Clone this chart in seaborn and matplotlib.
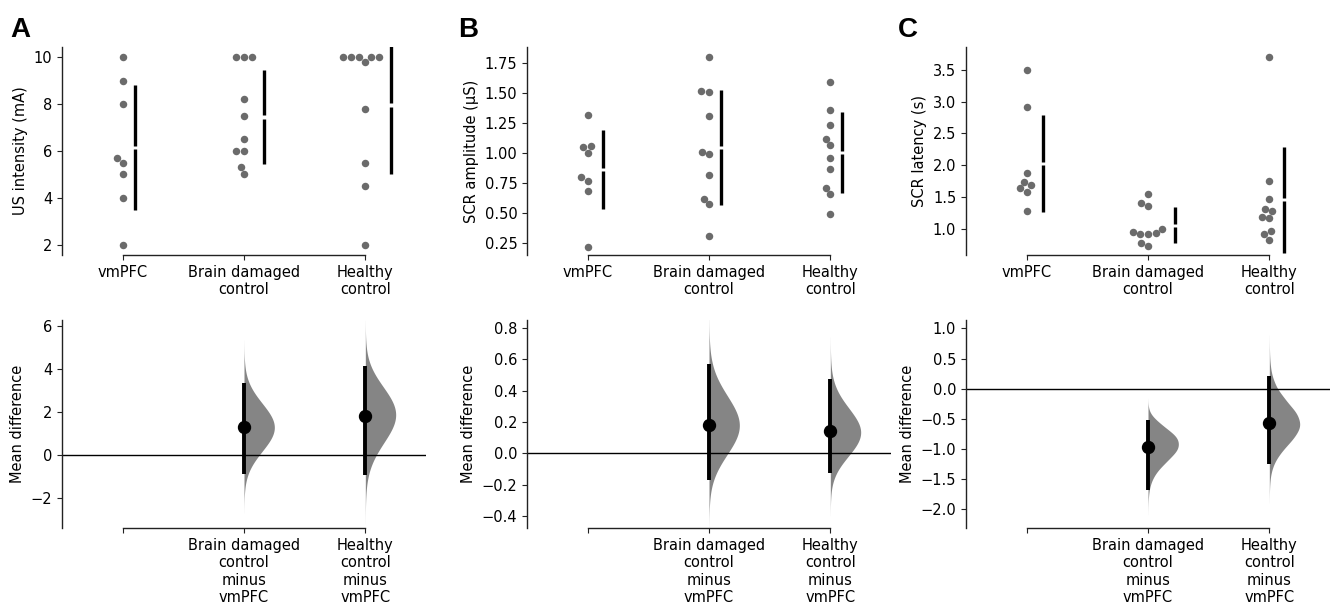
import numpy as np
import pandas as pd
import matplotlib
matplotlib.use("Agg")
import matplotlib.pyplot as plt
import seaborn as sns

# ---------------- data ----------------
groups = ["vmPFC", "Brain damaged\ncontrol", "Healthy\ncontrol"]
diff_labels = ["", "Brain damaged\ncontrol\nminus\nvmPFC", "Healthy\ncontrol\nminus\nvmPFC"]

us_vmpfc = [10, 9, 8, 5.7, 5.5, 5, 4, 2]
us_bdc = [10, 10, 10, 8.2, 7.5, 6.5, 6, 6, 5.3, 5]
us_hc = [10, 10, 10, 10, 10, 9.8, 7.8, 5.5, 4.5, 2]

amp_vmpfc = [1.32, 1.06, 1.05, 1.00, 0.80, 0.77, 0.68, 0.22]
amp_bdc = [1.80, 1.52, 1.51, 1.31, 1.01, 0.99, 0.82, 0.62, 0.575, 0.31]
amp_hc = [1.59, 1.36, 1.23, 1.12, 1.07, 0.96, 0.87, 0.71, 0.66, 0.49]

lat_vmpfc = [3.50, 2.91, 1.88, 1.74, 1.69, 1.64, 1.59, 1.29]
lat_bdc = [1.56, 1.41, 1.37, 1.01, 0.96, 0.95, 0.93, 0.92, 0.79, 0.745]
lat_hc = [3.70, 1.75, 1.48, 1.32, 1.28, 1.20, 1.17, 0.98, 0.92, 0.83]

# 95% CIs of the mean differences (test minus vmPFC)
ci_us = [(-0.88, 3.35), (-0.91, 4.12)]
ci_amp = [(-0.169, 0.571), (-0.127, 0.476)]
ci_lat = [(-1.683, -0.528), (-1.25, 0.206)]

panel_letters = ["A", "B", "C"]
top_ylabels = ["US intensity (mA)", "SCR amplitude (\u03bcS)", "SCR latency (s)"]
top_ylims = [(1.57, 10.43), (0.15, 1.883), (0.598, 3.853)]
bot_ylims = [(-3.39, 6.28), (-0.476, 0.851), (-2.315, 1.14)]
top_yticks = [[2, 4, 6, 8, 10], [0.25, 0.5, 0.75, 1.0, 1.25, 1.5, 1.75],
              [1.0, 1.5, 2.0, 2.5, 3.0, 3.5]]
bot_yticks = [[-2, 0, 2, 4, 6], [-0.4, -0.2, 0.0, 0.2, 0.4, 0.6, 0.8],
              [-2.0, -1.5, -1.0, -0.5, 0.0, 0.5, 1.0]]
top_fmt = ["{:.0f}", "{:.2f}", "{:.1f}"]
bot_fmt = ["{:.0f}", "{:.1f}", "{:.1f}"]

datasets = [[us_vmpfc, us_bdc, us_hc], [amp_vmpfc, amp_bdc, amp_hc], [lat_vmpfc, lat_bdc, lat_hc]]
cis = [ci_us, ci_amp, ci_lat]

# ---------------- style ----------------
sns.set_style("ticks")
FS = 10.5
plt.rcParams["font.family"] = ["DejaVu Sans"]
plt.rcParams["font.size"] = FS
plt.rcParams["xtick.labelsize"] = FS
plt.rcParams["ytick.labelsize"] = FS
plt.rcParams["axes.labelsize"] = FS
plt.rcParams["axes.linewidth"] = 1.0
plt.rcParams["axes.edgecolor"] = "#222222"
plt.rcParams["axes.labelcolor"] = "black"
plt.rcParams["text.color"] = "black"
plt.rcParams["xtick.color"] = "#222222"
plt.rcParams["ytick.color"] = "#222222"
plt.rcParams["xtick.labelcolor"] = "black"
plt.rcParams["ytick.labelcolor"] = "black"

DOT = "#6b6b6b"
VIOL = "#858585"


def minus_fmt(s):
    return s.replace("-", "\u2212")


def boot_diff_density(ctrl, test):
    """Exact bootstrap distribution of mean(test*) - mean(ctrl*) via convolution,
    smoothed like a KDE of 5000 resamples."""
    ctrl = np.asarray(ctrl, float)
    test = np.asarray(test, float)
    allv = np.concatenate([ctrl, test])
    h = (allv.max() - allv.min()) / 300.0

    def mean_pmf(v):
        n = len(v)
        idx = np.round(v / h).astype(int)
        lo = idx.min()
        p = np.bincount(idx - lo).astype(float) / n
        out = np.array([1.0])
        for _ in range(n):
            out = np.convolve(out, p)
        pos = (np.arange(out.size) + n * lo) * h / n
        return pos, out

    pc, wc = mean_pmf(ctrl)
    pt, wt = mean_pmf(test)
    lo = min(pc.min(), pt.min())
    hi = max(pc.max(), pt.max())
    nb = 2000
    g = (hi - lo) / nb
    edges = lo - g / 2 + g * np.arange(nb + 2)
    hc, _ = np.histogram(pc, bins=edges, weights=wc)
    ht, _ = np.histogram(pt, bins=edges, weights=wt)
    d = np.convolve(ht, hc[::-1])
    x = (np.arange(d.size) - (hc.size - 1)) * g
    mu = (x * d).sum()
    sd = np.sqrt(((x - mu) ** 2 * d).sum())
    bw = sd * 5000 ** (-0.2)
    m = int(4 * bw / g) + 1
    k = np.arange(-m, m + 1) * g
    ker = np.exp(-0.5 * (k / bw) ** 2)
    dens = np.convolve(d, ker, mode="same")
    keep = dens > dens.max() * 7e-4
    return x[keep], dens[keep]


# ---------------- figure ----------------
W, H = 1331, 604
fig = plt.figure(figsize=(W / 100, H / 100), dpi=100)

col_left = [62, 527, 966]
ax_w = 364
top_y0, top_y1 = 47, 255
bot_y0, bot_y1 = 320, 528

top_axes = []
for c in range(3):
    ax_t = fig.add_axes([col_left[c] / W, 1 - top_y1 / H, ax_w / W, (top_y1 - top_y0) / H])
    ax_b = fig.add_axes([col_left[c] / W, 1 - bot_y1 / H, ax_w / W, (bot_y1 - bot_y0) / H])
    top_axes.append(ax_t)

    vals = datasets[c]
    df = pd.DataFrame({
        "group": np.repeat(groups, [len(v) for v in vals]),
        "value": np.concatenate([np.asarray(v, float) for v in vals]),
    })
    sns.swarmplot(data=df, x="group", y="value", order=groups, color=DOT,
                  size=5.4, linewidth=0, ax=ax_t, warn_thresh=1.0)
    ax_t.set_xlim(-0.5, 2.5)
    ax_t.set_ylim(*top_ylims[c])
    ax_t.set_yticks(top_yticks[c])
    ax_t.set_yticklabels([minus_fmt(top_fmt[c].format(t)) for t in top_yticks[c]])
    ax_t.set_xticks([0, 1, 2])
    ax_t.set_xticklabels(groups)
    ax_t.set_xlabel("")
    ax_t.set_ylabel(top_ylabels[c], fontsize=FS)
    for s in ["top", "right"]:
        ax_t.spines[s].set_visible(False)
    ax_t.spines["bottom"].set_bounds(0, 2)

    # ---- effect size panel ----
    ctrl = np.asarray(vals[0], float)
    for i in (1, 2):
        test = np.asarray(vals[i], float)
        ys, dens = boot_diff_density(ctrl, test)
        ax_b.fill_betweenx(ys, i, i + dens / dens.max() * 0.25, color=VIOL,
                           linewidth=0, zorder=1)
        lo, hi = cis[c][i - 1]
        ax_b.vlines(i, lo, hi, color="black", linewidth=2.8, zorder=3)
        ax_b.plot([i], [test.mean() - ctrl.mean()], "o", color="black",
                  markersize=8.6, zorder=4)
    ax_b.axhline(0, color="black", linewidth=1.0, zorder=2)
    ax_b.set_xlim(-0.5, 2.5)
    ax_b.set_ylim(*bot_ylims[c])
    ax_b.set_yticks(bot_yticks[c])
    ax_b.set_yticklabels([minus_fmt(bot_fmt[c].format(t)) for t in bot_yticks[c]])
    ax_b.set_xticks([0, 1, 2])
    ax_b.set_xticklabels(diff_labels)
    ax_b.set_ylabel("Mean difference", fontsize=FS)
    for s in ["top", "right"]:
        ax_b.spines[s].set_visible(False)
    ax_b.spines["bottom"].set_bounds(0, 2)

    fig.text([10, 458, 898][c] / W, 1 - 37 / H, panel_letters[c],
             fontsize=20, fontweight="bold", color="black",
             family=["Liberation Sans", "DejaVu Sans"],
             va="baseline", ha="left")

# positions of swarm points are resolved at draw time
fig.canvas.draw()

for c, ax_t in enumerate(top_axes):
    vals = datasets[c]
    ylo, yhi = ax_t.get_ylim()
    gap = 0.008 * (yhi - ylo)
    xmax = {}
    for coll in ax_t.collections:
        offs = np.asarray(coll.get_offsets())
        if offs.size == 0:
            continue
        k = int(round(offs[:, 0].mean()))
        xmax[k] = offs[:, 0].max()
    for i in range(3):
        v = np.asarray(vals[i], float)
        m = v.mean()
        s = v.std(ddof=1)
        xpos = xmax.get(i, i) + 0.1
        ax_t.vlines(xpos, m - s, m - gap, color="black", linewidth=2.4, zorder=3)
        ax_t.vlines(xpos, m + gap, m + s, color="black", linewidth=2.4, zorder=3)

fig.savefig("out.png", dpi=100)
